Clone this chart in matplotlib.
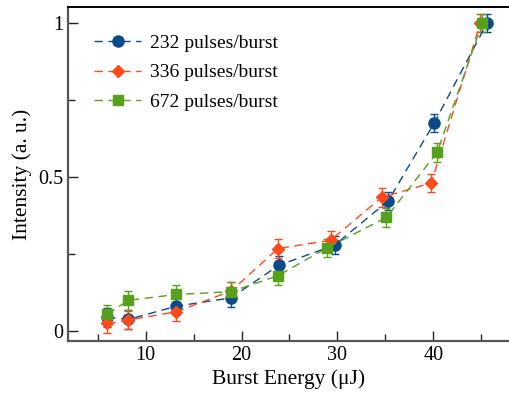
import numpy as np
import matplotlib
matplotlib.use("Agg")
import matplotlib.pyplot as plt
from matplotlib.lines import Line2D
from matplotlib.ticker import MultipleLocator, FuncFormatter

#   Data   #
energy_232 = [6.0, 8.2, 13.2, 18.9, 23.9, 29.7, 35.3, 40.1, 45.6]
intensity_232 = [0.045, 0.038, 0.081, 0.108, 0.214, 0.279, 0.423, 0.676, 1.0]
err_232 = [0.03, 0.03, 0.03, 0.03, 0.03, 0.03, 0.03, 0.03, 0.03]

energy_336 = [6.0, 8.2, 13.2, 18.9, 23.8, 29.3, 34.6, 39.8, 44.9]
intensity_336 = [0.025, 0.036, 0.063, 0.13, 0.268, 0.295, 0.434, 0.481, 1.0]
err_336 = [0.03, 0.03, 0.03, 0.03, 0.03, 0.03, 0.03, 0.03, 0.03]

energy_672 = [6.0, 8.2, 13.2, 18.9, 23.8, 28.9, 35.1, 40.4, 45.1]
intensity_672 = [0.055, 0.10, 0.119, 0.128, 0.18, 0.27, 0.369, 0.58, 1.0]
err_672 = [0.03, 0.03, 0.03, 0.03, 0.03, 0.03, 0.03, 0.03, 0.03]

labels = ['232 pulses/burst', '336 pulses/burst', '672 pulses/burst']

plt.rcParams['font.family'] = ['Liberation Serif', 'DejaVu Serif']

fig = plt.figure(figsize=(5.09, 3.94), dpi=100)
ax = fig.add_axes([68/509, 53/394, (509 - 68)/509 + 0.002, (341 - 7)/394])

colors = ['#0b4a8b', '#ff4a1a', '#57a01e']
markers = ['o', 'D', 's']
sizes = [8, 6.5, 7]
dash = (0, (6, 4))
series = [(energy_232, intensity_232, err_232),
          (energy_336, intensity_336, err_336),
          (energy_672, intensity_672, err_672)]

handles = []
for (x, y, e), c, m, s, lab in zip(series, colors, markers, sizes, labels):
    ax.errorbar(x, y, yerr=e, color=c, marker=m, markersize=s, linestyle=dash,
                linewidth=1.0, capsize=3, elinewidth=1.0, capthick=1.0)
    handles.append(Line2D([], [], color=c, marker=m, markersize=s, linestyle=dash,
                          linewidth=1.0, label=lab))

#   Customize plot   #
ax.set_xlim(1.9, 48.0)
ax.set_ylim(-0.032, 1.052)
ax.xaxis.set_major_locator(MultipleLocator(10))
ax.xaxis.set_minor_locator(MultipleLocator(5))
ax.yaxis.set_major_locator(MultipleLocator(0.5))
ax.yaxis.set_minor_locator(MultipleLocator(0.25))
ax.yaxis.set_major_formatter(FuncFormatter(lambda v, p: '%g' % v))

ax.tick_params(which='both', direction='in', top=False, right=False, labelsize=14.5)
ax.tick_params(which='major', length=7, width=1.0, color='#222222')
ax.tick_params(which='minor', length=5, width=1.0, color='#222222')

for side in ['left', 'bottom']:
    ax.spines[side].set_color('#555555')
    ax.spines[side].set_linewidth(1.6)
ax.spines['top'].set_color('black')
ax.spines['top'].set_linewidth(1.4)
ax.spines['right'].set_visible(False)

ax.set_xlabel('Burst Energy (μJ)', fontsize=15.5, labelpad=3)
ax.set_ylabel('Intensity (a. u.)', fontsize=15.5, labelpad=4)

ax.legend(handles=handles, loc='upper left', frameon=False, fontsize=14, handlelength=2.4,
          bbox_to_anchor=(0.02, 0.97), labelspacing=0.6, handletextpad=0.45)

fig.savefig('out.png', dpi=100)
